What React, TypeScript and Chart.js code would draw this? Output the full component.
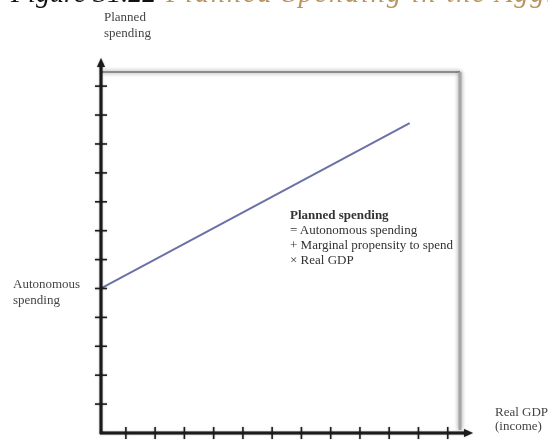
import React, { useEffect, useRef } from "react";
import { Chart, registerables } from "chart.js";

Chart.register(...registerables);

// ---- data ----
const titleNumber = "Figure 31.22";
const titleText = "Planned Spending in the Aggregate Economy";
const yAxisLabel = ["Planned", "spending"];
const xAxisLabel = ["Real GDP", "(income)"];
const interceptLabel = ["Autonomous", "spending"];
const equationLines = [
  "Planned spending",
  "= Autonomous spending",
  "+ Marginal propensity to spend",
  "\u00d7 Real GDP",
];
const realGdp = [0, 10.55];
const plannedSpending = [5, 10.72];
const xTickPositions = [0.85, 1.85, 2.85, 3.85, 4.85, 5.85, 6.85, 7.85, 8.85, 9.85, 10.85, 11.85];
const yTickPositions = [1, 2, 3, 4, 5, 6, 7, 8, 9, 10, 11, 12];
const xMax = 12.27;
const yMax = 12.49;

const axesPlugin = {
  id: "econAxes",
  afterDatasetsDraw(chart: any) {
    const { ctx, chartArea, scales } = chart;
    const xs = scales.x;
    const ys = scales.y;
    const x0 = xs.getPixelForValue(0);
    const y0 = ys.getPixelForValue(0);
    ctx.save();
    // frame (top and right) with soft shadow
    ctx.shadowColor = "rgba(0,0,0,0.45)";
    ctx.shadowBlur = 4;
    ctx.strokeStyle = "#8c8c8c";
    ctx.lineWidth = 2;
    ctx.beginPath();
    ctx.moveTo(x0, chartArea.top);
    ctx.lineTo(chartArea.right, chartArea.top);
    ctx.stroke();
    ctx.strokeStyle = "#a6a6a6";
    ctx.lineWidth = 3;
    ctx.beginPath();
    ctx.moveTo(chartArea.right, chartArea.top);
    ctx.lineTo(chartArea.right, y0 - 3);
    ctx.stroke();
    ctx.shadowBlur = 1.5;
    ctx.shadowColor = "rgba(0,0,0,0.5)";
    // axes
    ctx.strokeStyle = "#1c1c1c";
    ctx.fillStyle = "#1c1c1c";
    ctx.lineWidth = 3;
    ctx.beginPath();
    ctx.moveTo(x0, y0 + 1);
    ctx.lineTo(x0, chartArea.top - 8);
    ctx.stroke();
    ctx.beginPath();
    ctx.moveTo(x0 - 1, y0);
    ctx.lineTo(chartArea.right + 8, y0);
    ctx.stroke();
    // arrowheads
    ctx.beginPath();
    ctx.moveTo(x0, chartArea.top - 14);
    ctx.lineTo(x0 - 4, chartArea.top - 5);
    ctx.lineTo(x0 + 4, chartArea.top - 5);
    ctx.closePath();
    ctx.fill();
    ctx.beginPath();
    ctx.moveTo(chartArea.right + 13, y0);
    ctx.lineTo(chartArea.right + 4, y0 - 4);
    ctx.lineTo(chartArea.right + 4, y0 + 4);
    ctx.closePath();
    ctx.fill();
    // crossing tick marks
    ctx.lineWidth = 1.5;
    xTickPositions.forEach((v) => {
      const px = xs.getPixelForValue(v);
      ctx.beginPath();
      ctx.moveTo(px, y0 - 6);
      ctx.lineTo(px, y0 + 6);
      ctx.stroke();
    });
    yTickPositions.forEach((v) => {
      const py = ys.getPixelForValue(v);
      ctx.beginPath();
      ctx.moveTo(x0 - 6, py);
      ctx.lineTo(x0 + 6, py);
      ctx.stroke();
    });
    ctx.restore();
  },
};

export default function App() {
  const canvasRef = useRef<HTMLCanvasElement | null>(null);

  useEffect(() => {
    if (!canvasRef.current) return;
    const chart = new Chart(canvasRef.current, {
      type: "line",
      data: {
        datasets: [
          {
            label: "Planned spending",
            data: realGdp.map((x, i) => ({ x, y: plannedSpending[i] })),
            borderColor: "#6b70a6",
            borderWidth: 2,
            pointRadius: 0,
            fill: false,
          },
        ],
      },
      options: {
        animation: false,
        responsive: false,
        layout: { padding: { left: 101, top: 72, right: 88, bottom: 8 } },
        plugins: { legend: { display: false }, tooltip: { enabled: false }, title: { display: false } },
        scales: {
          x: { type: "linear", min: 0, max: xMax, display: false },
          y: { type: "linear", min: 0, max: yMax, display: false },
        },
      },
      plugins: [axesPlugin],
    });
    return () => chart.destroy();
  }, []);

  const serif = "'Liberation Serif', 'Times New Roman', serif";
  const label: React.CSSProperties = {
    position: "absolute",
    fontFamily: serif,
    fontSize: 13,
    lineHeight: "16px",
    color: "#444",
    whiteSpace: "nowrap",
  };

  return (
    <div
      style={{
        position: "absolute",
        left: 0,
        top: 0,
        width: 548,
        height: 441,
        overflow: "hidden",
        background: "#fff",
      }}
    >
      <canvas ref={canvasRef} width={548} height={441} style={{ position: "absolute", left: 0, top: 0 }} />
      <div
        style={{
          position: "absolute",
          left: 11,
          top: -21,
          fontFamily: serif,
          fontStyle: "italic",
          fontSize: 28,
          lineHeight: 1,
          whiteSpace: "nowrap",
        }}
      >
        <span style={{ color: "#111" }}>{titleNumber}</span>{" "}
        <span style={{ color: "#b9945f", letterSpacing: "2px", marginLeft: 3 }}>{titleText}</span>
      </div>
      <div style={{ ...label, left: 104, top: 9 }}>
        {yAxisLabel.map((t, i) => (
          <div key={i}>{t}</div>
        ))}
      </div>
      <div style={{ ...label, left: 13, top: 276 }}>
        {interceptLabel.map((t, i) => (
          <div key={i}>{t}</div>
        ))}
      </div>
      <div style={{ ...label, left: 495, top: 405, lineHeight: "14px" }}>
        {xAxisLabel.map((t, i) => (
          <div key={i}>{t}</div>
        ))}
      </div>
      <div style={{ ...label, left: 290, top: 207, lineHeight: "15px", color: "#333" }}>
        {equationLines.map((t, i) => (
          <div key={i} style={{ fontWeight: i === 0 ? "bold" : "normal" }}>
            {t}
          </div>
        ))}
      </div>
    </div>
  );
}
